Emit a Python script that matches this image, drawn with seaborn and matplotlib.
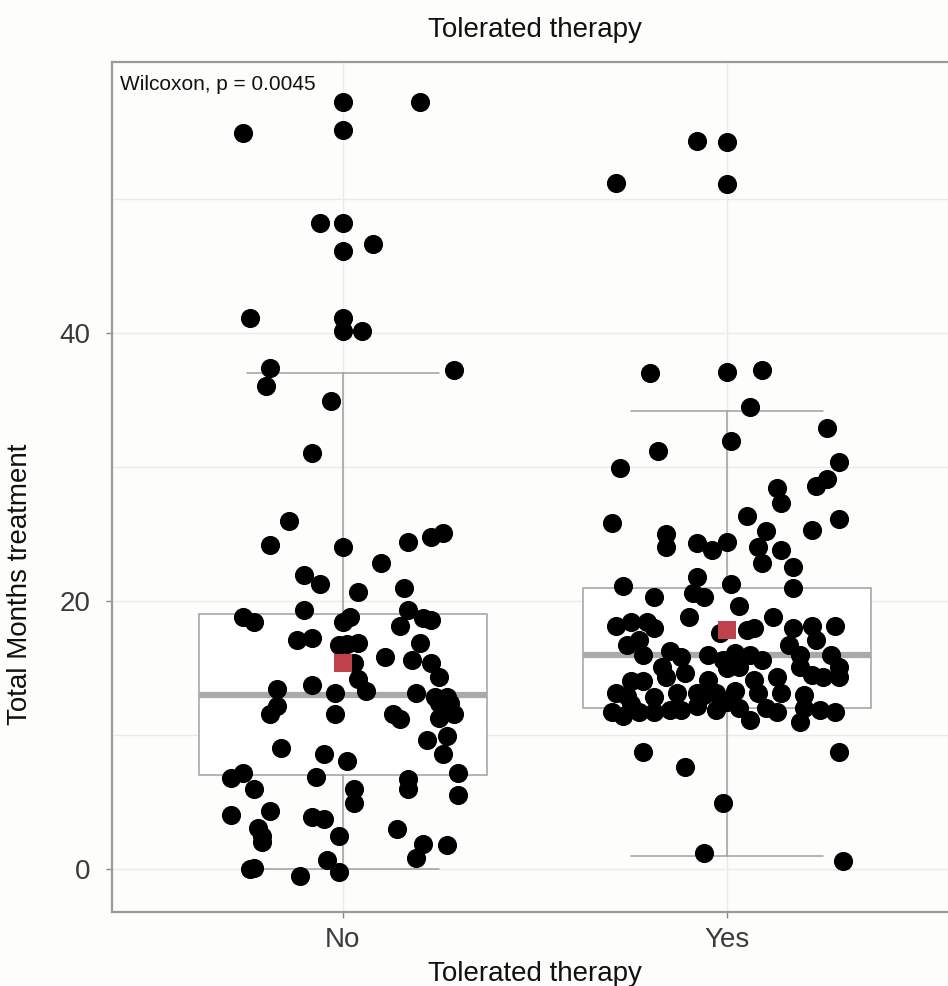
import numpy as np
import pandas as pd
import seaborn as sns
import matplotlib.pyplot as plt
from matplotlib.ticker import FixedLocator

# Total months of treatment per patient, grouped by whether therapy was tolerated.
# jitter = horizontal offset of each dot, in category widths
groups = ["No", "Yes"]

no_months = [57.2, 57.2, 55.1, 54.9, 48.2, 48.2, 46.1, 46.6, 41.1, 41.1,
             40.1, 40.1, 37.4, 36.0, 37.2, 34.9, 31.0, 26.0, 24.2, 24.0,
             24.4, 24.8, 25.1, 22.8, 21.9, 21.3, 20.7, 21.0, 19.3, 18.8,
             18.4, 18.8, 18.4, 19.3, 18.1, 18.7, 18.6, 17.1, 17.2, 16.7,
             16.8, 16.9, 16.9, 15.8, 15.6, 15.4, 14.3, 15.4, 14.2, 13.3,
             13.4, 13.7, 13.1, 13.1, 12.8, 12.8, 12.4, 12.4, 11.6, 11.3,
             11.6, 12.2, 11.6, 11.6, 11.2, 9.6, 9.9, 8.6, 9.0, 8.6,
             8.1, 7.2, 6.8, 7.2, 6.0, 6.9, 6.7, 6.0, 6.0, 4.9,
             5.5, 4.0, 4.3, 3.9, 3.7, 3.1, 2.5, 2.0, 2.5, 3.0,
             1.9, 0.8, 1.8, 0.0, 0.1, -0.5, 0.7, -0.2]
no_jitter = [0, .20, 0, -.26, -.06, 0, 0, .08, -.24, 0,
             0, .05, -.19, -.20, .29, -.03, -.08, -.14, -.19, 0,
             .17, .23, .26, .10, -.10, -.06, .04, .16, -.10, -.26,
             -.23, .02, 0, .17, .15, .21, .23, -.12, -.08, -.01,
             .01, .04, .20, .11, .18, .23, .25, .03, .04, .06,
             -.17, -.08, -.02, .19, .24, .27, .25, .28, .29, .25,
             -.19, -.17, -.02, .13, .15, .22, .27, .26, -.16, -.05,
             .01, .30, -.29, -.26, -.23, -.07, .17, .17, .03, .03,
             .30, -.29, -.19, -.08, -.05, -.22, -.21, -.21, -.01, .14,
             .21, .19, .27, -.24, -.23, -.11, -.04, -.01]

yes_months = [54.3, 54.2, 51.2, 51.1, 37.0, 37.1, 37.2, 34.5, 32.9, 31.9,
              31.2, 29.9, 30.4, 29.1, 28.6, 28.4, 27.3, 25.8, 26.3, 26.1,
              25.3, 25.2, 25.0, 24.0, 24.3, 23.8, 24.4, 24.0, 22.8, 23.8,
              22.5, 21.0, 21.1, 21.8, 20.6, 20.3, 21.3, 20.3, 19.6, 18.8,
              18.8, 18.1, 18.4, 18.4, 18.0, 16.7, 17.1, 17.6, 17.8, 18.0,
              18.0, 18.1, 18.1, 17.1, 16.7, 16.0, 16.0, 16.3, 15.8, 16.0,
              15.6, 16.1, 16.0, 15.6, 16.0, 15.1, 14.3, 15.1, 14.5, 14.3,
              15.1, 14.3, 14.0, 14.0, 14.6, 14.1, 15.0, 15.1, 14.1, 14.3,
              13.1, 12.8, 13.1, 13.1, 13.1, 13.3, 13.1, 13.1, 13.0, 11.7,
              11.4, 11.7, 11.7, 11.9, 11.9, 12.2, 11.9, 12.5, 12.0, 11.1,
              12.0, 11.7, 11.0, 12.0, 11.9, 11.7, 12.9, 13.0, 12.3, 8.7,
              7.6, 4.9, 1.2, 8.7, 0.6]
yes_jitter = [-.08, 0, -.29, 0, -.20, 0, .09, .06, .26, .01,
              -.18, -.28, .29, .26, .23, .13, .14, -.30, .05, .29,
              .22, .10, -.16, -.16, -.08, -.04, 0, .08, .09, .14,
              .17, .17, -.27, -.08, -.09, -.06, .01, -.19, .03, -.10,
              .12, -.29, -.25, -.21, -.19, -.26, -.23, -.02, .05, .07,
              .17, .22, .28, .23, .16, .19, -.22, -.15, -.12, -.05,
              -.01, .02, .06, .09, .27, .29, .29, .19, .22, .25,
              -.17, -.16, -.25, -.22, -.11, -.05, 0, .03, .07, .13,
              -.29, -.19, -.13, -.08, -.03, .02, .08, .14, .20, -.30,
              -.27, -.23, -.19, -.15, -.12, -.08, -.03, 0, .03, .06,
              .10, .13, .19, .20, .24, .28, -.26, -.06, -.25, -.22,
              -.11, -.01, -.06, .29, .30]

# box summary
box_low = [0.0, 1.0]
box_q1 = [7.0, 12.0]
box_med = [13.0, 16.0]
box_q3 = [19.0, 21.0]
box_high = [37.0, 34.2]
group_means = [15.4, 17.8]

y_ticks = [0, 20, 40]
y_minor = [10, 30, 50]

df = pd.DataFrame({
    "group": ["No"] * len(no_months) + ["Yes"] * len(yes_months),
    "months": no_months + yes_months,
    "jitter": no_jitter + yes_jitter,
})
df["pos"] = df["group"].map({g: i for i, g in enumerate(groups)}) + df["jitter"]

sns.set_theme(style="white")
plt.rcParams["font.family"] = ["Liberation Sans", "DejaVu Sans"]

fig = plt.figure(figsize=(9.48, 9.86), dpi=100, facecolor="#fdfdfc")
ax = fig.add_axes([112 / 948, 74 / 986, 846 / 948, 850 / 986])
ax.set_facecolor("#fdfdfc")

stats = [dict(whislo=box_low[i], q1=box_q1[i], med=box_med[i], q3=box_q3[i],
              whishi=box_high[i], fliers=[]) for i in range(len(groups))]
ax.bxp(stats, positions=range(len(groups)), widths=0.75, capwidths=0.5,
       patch_artist=True, showfliers=False,
       boxprops=dict(facecolor="white", edgecolor="#a0a0a0", linewidth=1.1),
       whiskerprops=dict(color="#a0a0a0", linewidth=1.1),
       capprops=dict(color="#a0a0a0", linewidth=1.1),
       medianprops=dict(color="#aaaaaa", linewidth=4.5, solid_capstyle="butt"),
       zorder=2)

sns.scatterplot(data=df, x="pos", y="months", color="black", s=190,
                linewidth=0, ax=ax, zorder=3, legend=False)
sns.scatterplot(x=list(range(len(groups))), y=group_means, marker="s",
                color="#c0414c", s=185, linewidth=0, ax=ax, zorder=4)

ax.set_xlim(-0.6, 1.6)
ax.set_ylim(-3.2, 60.2)
ax.set_xticks(range(len(groups)))
ax.set_xticklabels(groups)
ax.set_yticks(y_ticks)
ax.yaxis.set_minor_locator(FixedLocator(y_minor))

ax.grid(True, which="both", color="#ebebeb", linewidth=1.0, zorder=0)
ax.set_axisbelow(True)
for side in ["top", "left", "bottom"]:
    ax.spines[side].set_color("#9a9a9a")
    ax.spines[side].set_linewidth(1.6)
ax.spines["right"].set_visible(False)

ax.tick_params(axis="both", which="major", length=4.5, width=1, color="#888888",
               labelsize=20, labelcolor="#3a3a3a", bottom=True, left=True)
ax.tick_params(axis="y", pad=11)
ax.tick_params(axis="x", pad=6)
ax.tick_params(which="minor", length=0)

ax.set_xlabel("Tolerated therapy", fontsize=20, labelpad=6, color="#111111")
ax.set_ylabel("Total Months treatment", fontsize=20, color="#111111")
ax.yaxis.set_label_coords(-0.093, 0.385)
ax.set_title("Tolerated therapy", fontsize=20, pad=18, color="#111111")

ax.text(-0.58, 58.5, "Wilcoxon, p = 0.0045", fontsize=15, ha="left",
        va="center", color="#111111")

fig.savefig("out.png", dpi=100, facecolor=fig.get_facecolor())
